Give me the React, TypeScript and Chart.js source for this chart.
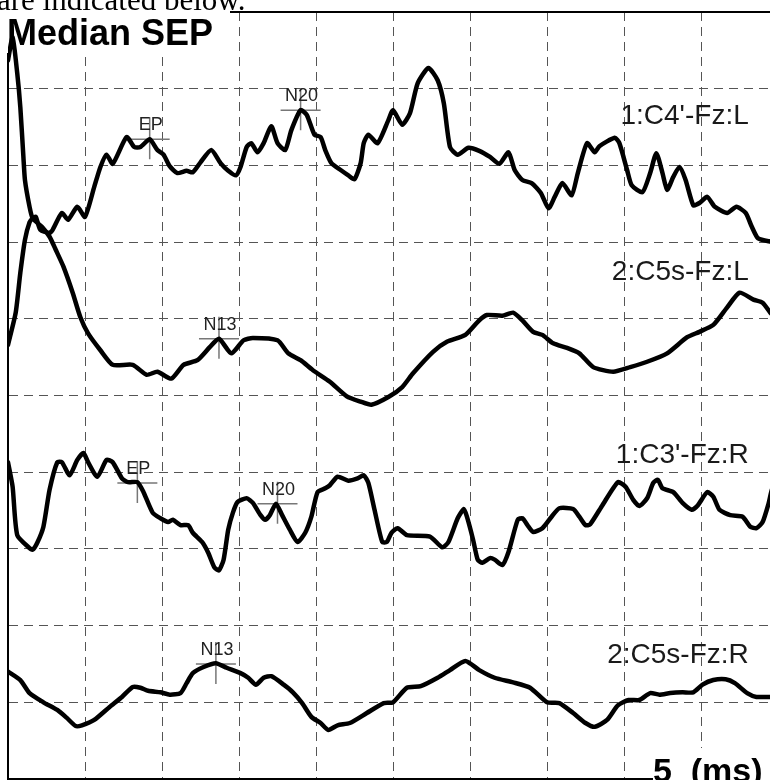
import React, { useEffect, useRef } from "react";
import { Chart, registerables } from "chart.js";

Chart.register(...registerables);

// ---- Data (x in ms, y in grid divisions; 5 ms / division) ----
const aMs = [0,0.5,0.8,1.1,1.4,1.6,1.8,2.1,2.7,2.9,3.5,3.9,4.5,5.0,5.6,6.0,6.4,6.8,7.7,8.2,8.6,9.2,9.7,10.1,10.5,11.0,11.6,12.0,12.5,13.2,13.8,14.3,14.8,15.1,15.5,15.8,16.2,16.6,17.1,17.5,18.0,18.4,19.0,19.4,19.9,20.3,20.6,21.0,21.6,22.1,22.5,22.9,23.1,23.4,24.0,24.7,25.0,25.6,26.1,26.6,27.3,27.9,28.3,28.7,29.2,29.9,30.6,31.3,31.9,32.5,32.9,33.4,34.0,34.6,35.1,35.5,36.0,36.6,37.0,37.6,38.1,38.4,39.4,39.7,40.2,40.5,41.2,41.7,42.1,42.5,42.8,43.2,43.6,44.0,44.5,44.9,45.4,45.9,46.7,47.3,47.9,48.3,48.7,49.4,50.0];
const aVal = [5.66,6.08,6.60,7.03,7.26,7.31,7.33,7.16,7.12,7.16,7.38,7.29,7.46,7.33,7.72,7.98,8.14,8.02,8.37,8.24,8.24,8.34,8.20,8.14,7.99,7.90,7.93,7.91,8.04,8.20,8.03,7.93,7.87,7.98,8.24,8.29,8.17,8.29,8.51,8.29,8.20,8.46,8.72,8.66,8.40,8.37,8.20,8.03,7.94,7.87,7.82,8.03,8.29,8.40,8.29,8.59,8.72,8.53,8.68,9.07,9.27,9.11,8.81,8.24,8.14,8.23,8.19,8.11,8.02,8.17,7.94,7.81,7.77,7.64,7.44,7.59,7.77,7.61,7.90,8.29,8.17,8.25,8.36,8.29,7.94,7.74,7.65,7.90,8.16,7.90,7.68,7.85,7.98,7.81,7.48,7.51,7.59,7.46,7.38,7.46,7.38,7.20,7.05,7.01,7.00];

const bMs = [0,0.3,0.6,0.8,1.0,1.1,1.4,1.6,2.2,2.7,3.1,3.6,4.2,4.7,5.2,6.0,6.8,8.1,9.0,9.7,10.6,11.4,12.3,13.1,13.7,14.5,15.3,15.9,17.5,18.2,19.0,19.8,20.9,22.0,22.9,23.6,24.7,25.6,26.3,27.6,28.5,29.7,30.6,31.1,32.1,32.8,33.4,34.1,34.7,35.4,36.3,37.1,38.0,39.3,40.4,41.5,42.8,44.1,44.9,45.8,46.7,47.5,48.4,49.0,49.5,50.0];
const bVal = [9.37,9.67,9.20,8.76,8.11,7.81,7.46,7.31,7.20,7.07,6.90,6.68,6.34,6.02,5.81,5.59,5.40,5.40,5.27,5.31,5.22,5.40,5.46,5.63,5.74,5.55,5.72,5.75,5.72,5.55,5.46,5.33,5.18,4.99,4.92,4.88,4.98,5.11,5.29,5.57,5.70,5.79,5.98,6.05,6.04,6.08,5.98,5.83,5.79,5.68,5.62,5.55,5.37,5.31,5.37,5.44,5.55,5.76,5.83,5.92,6.15,6.34,6.25,6.21,6.08,5.98];

const cMs = [0,0.3,0.6,1.4,1.6,1.9,2.3,2.7,3.2,3.5,4.0,4.5,4.9,5.2,5.8,6.4,6.8,7.4,7.8,8.4,8.8,9.4,9.9,10.4,10.7,11.2,11.7,12.0,12.6,13.0,13.4,13.7,14.0,14.3,14.6,14.9,15.5,15.9,16.4,16.7,17.0,17.4,17.8,18.3,18.8,19.3,19.7,20.1,20.6,20.9,21.4,22.1,22.7,23.1,23.4,23.8,24.3,24.6,24.9,25.3,25.9,27.4,28.2,28.6,29.2,29.6,29.8,30.2,30.5,30.8,31.3,31.6,32.1,32.5,33.1,33.4,33.8,34.1,34.7,35.3,35.8,36.7,37.1,37.5,37.8,38.6,39.6,40.1,40.6,41.0,41.5,41.9,42.2,42.5,43.2,43.8,44.4,44.8,45.4,45.8,46.2,46.9,47.7,48.2,48.6,49.0,49.4,49.6,50.0];
const cVal = [4.13,3.81,3.18,3.01,2.99,3.08,3.29,3.77,4.13,4.13,3.96,4.16,4.25,4.13,3.94,4.16,4.13,3.92,3.87,3.87,3.74,3.47,3.40,3.35,3.38,3.31,3.31,3.21,3.09,2.95,2.76,2.72,2.86,3.25,3.47,3.61,3.66,3.60,3.44,3.38,3.44,3.59,3.44,3.25,3.09,3.21,3.42,3.74,3.79,3.83,3.94,3.89,3.92,3.96,3.86,3.51,3.09,3.09,3.21,3.27,3.18,3.16,3.02,3.09,3.40,3.52,3.42,3.12,2.86,2.82,2.88,2.86,2.79,2.96,3.38,3.40,3.29,3.22,3.27,3.42,3.53,3.52,3.42,3.31,3.32,3.57,3.87,3.81,3.64,3.56,3.66,3.86,3.90,3.79,3.74,3.60,3.51,3.57,3.74,3.68,3.51,3.44,3.42,3.29,3.27,3.35,3.60,3.77,3.92];

const dMs = [0,0.8,1.4,2.3,3.2,3.8,4.4,4.8,5.6,6.6,7.4,8.1,8.6,9.1,9.9,10.5,11.2,11.6,12.0,12.7,13.5,14.2,15.1,15.6,16.1,16.6,17.1,17.9,18.5,19.1,19.7,20.3,20.8,21.4,22.2,23.3,24.4,25.0,25.9,26.8,27.9,28.7,29.7,30.6,31.6,32.8,33.9,35.0,35.8,36.7,37.5,38.1,38.9,39.6,40.3,41.0,41.7,42.3,43.0,43.8,44.5,45.1,45.8,46.6,47.2,48.0,48.6,49.5,50.0];
const dVal = [1.40,1.29,1.12,1.00,0.90,0.80,0.69,0.70,0.77,0.94,1.07,1.20,1.19,1.15,1.13,1.10,1.12,1.25,1.38,1.46,1.51,1.45,1.38,1.32,1.23,1.32,1.34,1.23,1.13,0.99,0.81,0.73,0.64,0.70,0.73,0.86,0.99,1.00,1.19,1.21,1.32,1.42,1.54,1.42,1.32,1.26,1.19,1.00,0.99,0.86,0.73,0.68,0.77,0.96,1.03,1.03,1.12,1.10,1.12,1.13,1.13,1.23,1.29,1.30,1.25,1.12,1.07,1.07,1.07];

// Peak markers
const markerNames = ["EP", "N20", "N13", "EP", "N20", "N13"];
const markerMs = [9.2, 19.0, 13.7, 8.4, 17.5, 13.5];
const markerVal = [8.34, 8.72, 5.74, 3.86, 3.59, 1.5];

// Channel labels (right-aligned anchor)
const channelNames = ["1:C4'-Fz:L", "2:C5s-Fz:L", "1:C3'-Fz:R", "2:C5s-Fz:R"];
const channelMs = [48.1, 48.1, 48.1, 48.1];
const channelVal = [8.54, 6.51, 4.12, 1.51];

const xTicksMs = [0, 50];
const yTicksDiv = [0, 10];

const toPoints = (xs: number[], ys: number[]) => xs.map((x, i) => ({ x, y: ys[i] }));

const overlayPlugin = {
  id: "sepOverlay",
  beforeDatasetsDraw(chart: any) {
    const { ctx } = chart;
    const x = chart.scales.x;
    const y = chart.scales.y;
    ctx.save();
    // page text above the figure (clipped)
    ctx.fillStyle = "#000";
    ctx.textAlign = "left";
    ctx.textBaseline = "alphabetic";
    ctx.font = '31px "Liberation Serif", "Times New Roman", serif';
    ctx.fillText("are indicated below.", -3, 10);

    // title box
    ctx.fillStyle = "#fff";
    ctx.fillRect(0, 11, 230, 42);
    ctx.fillStyle = "#000";
    ctx.font = 'bold 36px "Liberation Sans", Arial, sans-serif';
    ctx.fillText("Median SEP", 7, 45);

    // unit box
    ctx.fillStyle = "#fff";
    ctx.fillRect(653, 748, 160, 60);
    ctx.fillStyle = "#000";
    ctx.font = 'bold 34px "Liberation Sans", Arial, sans-serif';
    ctx.fillText("5  (ms)", 653, 782);

    // channel labels
    ctx.fillStyle = "#1a1a1a";
    ctx.textAlign = "right";
    ctx.font = '28px "Liberation Sans", Arial, sans-serif';
    channelNames.forEach((name, i) => {
      ctx.fillText(name, x.getPixelForValue(channelMs[i]), y.getPixelForValue(channelVal[i]));
    });

    // markers
    ctx.strokeStyle = "#777";
    ctx.lineWidth = 1.5;
    ctx.textAlign = "center";
    ctx.font = '18px "Liberation Sans", Arial, sans-serif';
    markerNames.forEach((name, i) => {
      const cx = x.getPixelForValue(markerMs[i]);
      const cy = y.getPixelForValue(markerVal[i]);
      ctx.beginPath();
      ctx.moveTo(cx - 20, cy);
      ctx.lineTo(cx + 20, cy);
      ctx.moveTo(cx, cy - 22);
      ctx.lineTo(cx, cy + 20);
      ctx.stroke();
      ctx.fillStyle = "#222";
      ctx.fillText(name, cx + 1, cy - 9);
    });
    ctx.restore();
  },
};

export default function App() {
  const ref = useRef<HTMLCanvasElement | null>(null);

  useEffect(() => {
    if (!ref.current) return;
    const lineStyle = {
      borderColor: "#000",
      borderWidth: 4.5,
      pointRadius: 0,
      tension: 0.2,
      borderJoinStyle: "round" as const,
      borderCapStyle: "round" as const,
      fill: false,
    };
    const chart = new Chart(ref.current, {
      type: "line",
      data: {
        datasets: [
          { label: channelNames[0], data: toPoints(aMs, aVal), ...lineStyle },
          { label: channelNames[1], data: toPoints(bMs, bVal), ...lineStyle },
          { label: channelNames[2], data: toPoints(cMs, cVal), ...lineStyle },
          { label: channelNames[3], data: toPoints(dMs, dVal), ...lineStyle },
        ],
      },
      options: {
        animation: false,
        responsive: false,
        maintainAspectRatio: false,
        devicePixelRatio: 1,
        layout: { padding: { left: 8, top: 12, right: 12, bottom: 11 } },
        plugins: { legend: { display: false }, tooltip: { enabled: false } },
        scales: {
          x: {
            type: "linear",
            position: "bottom",
            min: xTicksMs[0],
            max: xTicksMs[1],
            ticks: { display: false, stepSize: 5 },
            grid: { color: "#555", lineWidth: 1, drawTicks: false },
            border: { display: true, color: "#000", width: 2, dash: [9, 6] },
          },
          xTop: {
            type: "linear",
            position: "top",
            min: xTicksMs[0],
            max: xTicksMs[1],
            ticks: { display: false },
            grid: { display: false, drawTicks: false },
            border: { display: true, color: "#000", width: 2 },
          },
          y: {
            type: "linear",
            position: "left",
            min: yTicksDiv[0],
            max: yTicksDiv[1],
            ticks: { display: false, stepSize: 1 },
            grid: { color: "#555", lineWidth: 1, drawTicks: false },
            border: { display: true, color: "#000", width: 2, dash: [9, 6] },
          },
        },
      },
      plugins: [overlayPlugin],
    });
    return () => chart.destroy();
  }, []);

  return (
    <div
      style={{
        position: "fixed",
        left: 0,
        top: 0,
        width: 770,
        height: 780,
        overflow: "hidden",
        background: "#fff",
      }}
    >
      <canvas
        ref={ref}
        width={790}
        height={790}
        style={{ position: "absolute", left: 0, top: 0, width: 790, height: 790 }}
      />
    </div>
  );
}
